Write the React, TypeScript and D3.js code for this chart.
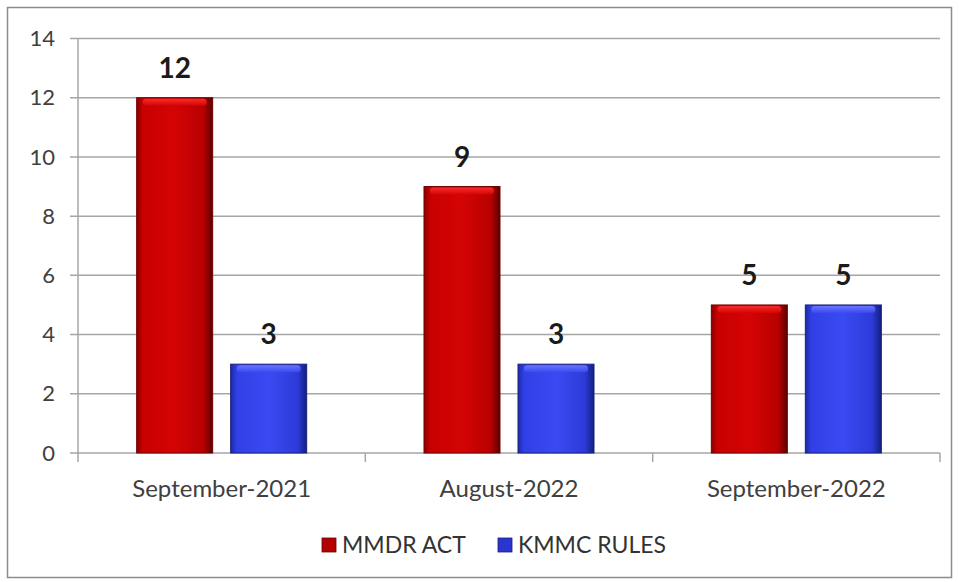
import React from "react";
import * as d3 from "d3";

const categories = ["September-2021", "August-2022", "September-2022"];
const seriesNames = ["MMDR ACT", "KMMC RULES"];
const mmdrAct = [12, 9, 5];
const kmmcRules = [3, 3, 5];
const yTicks = [0, 2, 4, 6, 8, 10, 12, 14];

const W = 959;
const H = 582;
const FONT = "Lato, 'Open Sans', sans-serif";

export default function App() {
  const left = 78, right = 940, top = 38.5, bottom = 453;
  const y = d3.scaleLinear().domain([0, 14]).range([bottom, top]);
  const x0 = d3.scaleBand<string>().domain(categories).range([left, right]).paddingInner(0).paddingOuter(0);
  const bw = x0.bandwidth();
  const barW = 76;
  const gap = 18;
  const series = [
    { name: seriesNames[0], values: mmdrAct, grad: "gRed", hi: "hRed", leg: "#b00000", edge: "#700000" },
    { name: seriesNames[1], values: kmmcRules, grad: "gBlue", hi: "hBlue", leg: "#2a35d0", edge: "#18207a" },
  ];
  const x1 = (si: number) => (si === 0 ? -gap / 2 - barW : gap / 2);

  return (
    <svg width={W} height={H} style={{ position: "absolute", left: 0, top: 0, background: "#fff" }}>
      <defs>
        <linearGradient id="gRed" x1="0" x2="1" y1="0" y2="0">
          <stop offset="0" stopColor="#8a0000" />
          <stop offset="0.08" stopColor="#c80000" />
          <stop offset="0.5" stopColor="#d40404" />
          <stop offset="0.88" stopColor="#b80000" />
          <stop offset="1" stopColor="#5a0000" />
        </linearGradient>
        <linearGradient id="gBlue" x1="0" x2="1" y1="0" y2="0">
          <stop offset="0" stopColor="#1c2aa8" />
          <stop offset="0.08" stopColor="#3140e6" />
          <stop offset="0.5" stopColor="#3a4af2" />
          <stop offset="0.88" stopColor="#2c3bd8" />
          <stop offset="1" stopColor="#141e80" />
        </linearGradient>
        <linearGradient id="hRed" x1="0" x2="0" y1="0" y2="1">
          <stop offset="0" stopColor="#ff3030" />
          <stop offset="1" stopColor="#d40404" />
        </linearGradient>
        <linearGradient id="hBlue" x1="0" x2="0" y1="0" y2="1">
          <stop offset="0" stopColor="#6f7cff" />
          <stop offset="1" stopColor="#3a4af2" />
        </linearGradient>
      </defs>
      <rect x={7.5} y={7.5} width={944} height={570} fill="#fff" stroke="#8c8c8c" strokeWidth={1.5} />
      {yTicks.map((t) => (
        <g key={t}>
          <line x1={left - 8} x2={right} y1={y(t)} y2={y(t)} stroke="#a6a6a6" strokeWidth={1.5} />
          <text x={55} y={y(t)} dy="0.35em" textAnchor="end" fontFamily={FONT} fontSize={22} fill="#404040">
            {t}
          </text>
        </g>
      ))}
      <line x1={left} x2={left} y1={top} y2={bottom} stroke="#a6a6a6" strokeWidth={1.5} />
      {[...categories.map((c) => x0(c) as number), right].map((xx, i) => (
        <line key={i} x1={xx} x2={xx} y1={bottom} y2={bottom + 9} stroke="#a6a6a6" strokeWidth={1.5} />
      ))}
      {categories.map((c, ci) => {
        const cx = (x0(c) as number) + bw / 2;
        return (
          <g key={c}>
            {series.map((s, si) => {
              const v = s.values[ci];
              const bx = cx + x1(si);
              const by = y(v);
              const bh = bottom - by;
              return (
                <g key={s.name}>
                  <rect x={bx} y={by} width={barW} height={bh} fill={`url(#${s.grad})`} />
                  <rect x={bx + 6} y={by + 1} width={barW - 12} height={7} rx={3.5} fill={`url(#${s.hi})`} opacity={0.9} />
                  <rect x={bx} y={by} width={barW} height={bh} fill="none" stroke={s.edge} strokeWidth={1} />
                  <text x={bx + barW / 2} y={by - 20} textAnchor="middle" fontFamily={FONT} fontWeight={700} fontSize={28} fill="#1a1a1a">
                    {v}
                  </text>
                </g>
              );
            })}
            <text x={cx} y={497} textAnchor="middle" fontFamily={FONT} fontSize={24} fill="#404040">
              {c}
            </text>
          </g>
        );
      })}
      {[
        { s: series[0], x: 322 },
        { s: series[1], x: 498 },
      ].map(({ s, x }) => (
        <g key={s.name}>
          <rect x={x} y={538} width={14} height={14} fill={s.leg} stroke={s.edge} strokeWidth={0.8} />
          <text x={x + 20} y={553} fontFamily={FONT} fontSize={23} fill="#333">
            {s.name}
          </text>
        </g>
      ))}
    </svg>
  );
}
